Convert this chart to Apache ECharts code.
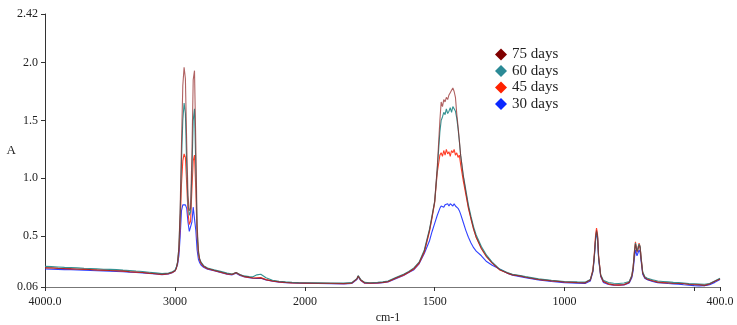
<!DOCTYPE html>
<html>
<head>
<meta charset="utf-8">
<script src="https://cdn.jsdelivr.net/npm/echarts@6/dist/echarts.min.js"></script>
<style>
  html, body { margin: 0; padding: 0; background: #fff; }
  #chart { width: 737px; height: 325px; }
</style>
</head>
<body>
<div id="chart"></div>
<script>
// wavenumbers (cm-1)
var wn = [
  4000, 3950, 3900, 3850, 3800, 3750, 3700, 3650, 3600, 3550,
  3500, 3450, 3400, 3350, 3300, 3250, 3200, 3150, 3100, 3050,
  3020, 3000, 2990, 2980, 2970, 2960, 2950, 2940, 2930, 2920,
  2910, 2900, 2890, 2880, 2870, 2860, 2850, 2840, 2830, 2820,
  2810, 2800, 2780, 2750, 2700, 2650, 2600, 2560, 2530, 2515,
  2500, 2470, 2430, 2400, 2370, 2355, 2340, 2325, 2300, 2250,
  2200, 2150, 2100, 2050, 2000, 1950, 1900, 1850, 1820, 1800,
  1795, 1785, 1770, 1750, 1720, 1700, 1680, 1650, 1620, 1600,
  1580, 1560, 1540, 1520, 1510, 1500, 1490, 1480, 1475, 1470,
  1465, 1460, 1455, 1450, 1445, 1440, 1435, 1430, 1425, 1420,
  1415, 1410, 1405, 1400, 1390, 1380, 1370, 1360, 1350, 1340,
  1320, 1300, 1280, 1250, 1220, 1200, 1170, 1150, 1100, 1050,
  1000, 950, 920, 900, 890, 885, 880, 876, 872, 868,
  860, 850, 830, 810, 790, 770, 750, 740, 735, 730,
  726, 720, 716, 712, 708, 704, 698, 690, 680, 660,
  640, 620, 600, 580, 560, 540, 520, 500, 480, 460,
  440, 420, 400
];

var d75 = [
  0.225, 0.227, 0.221, 0.22, 0.219, 0.214, 0.215, 0.21, 0.208, 0.206,
  0.203, 0.2, 0.199, 0.193, 0.19, 0.186, 0.18, 0.175, 0.17, 0.176,
  0.188, 0.2, 0.22, 0.27, 0.4, 0.75, 1.3, 1.8, 1.96, 1.86,
  1.3, 0.85, 0.72, 0.74, 1.2, 1.85, 1.93, 1.3, 0.6, 0.38,
  0.3, 0.27, 0.24, 0.22, 0.205, 0.19, 0.175, 0.17, 0.185, 0.18,
  0.165, 0.152, 0.145, 0.138, 0.136, 0.14, 0.138, 0.132, 0.122, 0.112,
  0.105, 0.1, 0.097, 0.095, 0.094, 0.093, 0.092, 0.09, 0.094, 0.13,
  0.155, 0.12, 0.097, 0.094, 0.097, 0.1, 0.108, 0.138, 0.165, 0.19,
  0.22, 0.27, 0.37, 0.55, 0.67, 0.8, 1.1, 1.5, 1.66, 1.62,
  1.68, 1.66, 1.7, 1.68, 1.72, 1.74, 1.76, 1.78, 1.75, 1.7,
  1.56, 1.45, 1.33, 1.2, 1.02, 0.88, 0.75, 0.65, 0.56, 0.49,
  0.39, 0.32, 0.27, 0.21, 0.18, 0.165, 0.155, 0.145, 0.125, 0.113,
  0.103, 0.098, 0.096, 0.12, 0.2, 0.32, 0.48, 0.55, 0.5, 0.32,
  0.16, 0.11, 0.088, 0.08, 0.078, 0.082, 0.1, 0.15, 0.22, 0.35,
  0.43, 0.36, 0.38, 0.42, 0.4, 0.3, 0.18, 0.14, 0.125, 0.112,
  0.1, 0.096, 0.094, 0.09, 0.09, 0.088, 0.083, 0.08, 0.078, 0.072,
  0.085, 0.11, 0.13
];

var d60 = [
  0.238, 0.236, 0.233, 0.23, 0.228, 0.225, 0.222, 0.22, 0.218, 0.214,
  0.212, 0.21, 0.206, 0.203, 0.198, 0.194, 0.188, 0.182, 0.176, 0.18,
  0.192, 0.205, 0.23, 0.28, 0.4, 0.7, 1.15, 1.5, 1.65, 1.56,
  1.1, 0.78, 0.68, 0.71, 1.05, 1.5, 1.6, 1.1, 0.55, 0.36,
  0.3, 0.275, 0.245, 0.225, 0.208, 0.195, 0.18, 0.172, 0.186, 0.182,
  0.168, 0.156, 0.15, 0.148, 0.165, 0.182, 0.17, 0.178, 0.14, 0.118,
  0.11, 0.104, 0.1, 0.098, 0.097, 0.096, 0.095, 0.094, 0.098, 0.132,
  0.158, 0.124, 0.1, 0.097, 0.1, 0.104, 0.112, 0.142, 0.17, 0.195,
  0.225, 0.275, 0.38, 0.56, 0.68, 0.8, 1.08, 1.4, 1.5, 1.53,
  1.57, 1.55, 1.6, 1.56, 1.58, 1.61, 1.57, 1.62, 1.6, 1.58,
  1.52, 1.43, 1.32, 1.2, 1.03, 0.9, 0.77, 0.67, 0.58, 0.51,
  0.41, 0.335, 0.28, 0.215, 0.185, 0.17, 0.16, 0.15, 0.13, 0.118,
  0.108, 0.104, 0.102, 0.125, 0.2, 0.31, 0.46, 0.54, 0.49, 0.31,
  0.165, 0.118, 0.098, 0.092, 0.09, 0.094, 0.108, 0.16, 0.23, 0.36,
  0.44, 0.37, 0.4, 0.43, 0.41, 0.31, 0.19, 0.15, 0.135, 0.122,
  0.112, 0.108, 0.104, 0.1, 0.098, 0.095, 0.09, 0.088, 0.086, 0.084,
  0.09, 0.112, 0.135
];

var d45 = [
  0.226, 0.224, 0.222, 0.219, 0.217, 0.216, 0.212, 0.211, 0.207, 0.205,
  0.202, 0.2, 0.197, 0.192, 0.189, 0.185, 0.179, 0.174, 0.168, 0.174,
  0.186, 0.2, 0.22, 0.27, 0.37, 0.6, 0.95, 1.15, 1.21, 1.18,
  0.95, 0.7, 0.6, 0.63, 0.9, 1.15, 1.2, 0.9, 0.5, 0.34,
  0.29, 0.265, 0.238, 0.218, 0.203, 0.188, 0.173, 0.168, 0.183, 0.178,
  0.163, 0.15, 0.143, 0.138, 0.14, 0.145, 0.141, 0.135, 0.124, 0.113,
  0.104, 0.099, 0.096, 0.094, 0.093, 0.092, 0.09, 0.089, 0.093, 0.128,
  0.154, 0.118, 0.095, 0.092, 0.095, 0.099, 0.106, 0.135, 0.162, 0.188,
  0.215, 0.265, 0.36, 0.54, 0.66, 0.79, 1.05, 1.2, 1.22, 1.19,
  1.24, 1.2, 1.25, 1.21, 1.23, 1.19, 1.24, 1.22, 1.25, 1.2,
  1.22, 1.18, 1.2, 1.12, 0.98, 0.86, 0.74, 0.65, 0.56, 0.49,
  0.395, 0.325, 0.272, 0.21, 0.18, 0.166, 0.156, 0.146, 0.126, 0.114,
  0.104, 0.099, 0.097, 0.122, 0.21, 0.33, 0.5, 0.57, 0.51, 0.33,
  0.16, 0.108, 0.085, 0.078, 0.076, 0.08, 0.102, 0.158, 0.23, 0.37,
  0.45, 0.37, 0.4, 0.44, 0.41, 0.31, 0.185, 0.145, 0.13, 0.116,
  0.104, 0.1, 0.097, 0.094, 0.092, 0.09, 0.086, 0.084, 0.082, 0.078,
  0.088, 0.11, 0.132
];

var d30 = [
  0.215, 0.214, 0.212, 0.21, 0.21, 0.207, 0.206, 0.203, 0.2, 0.199,
  0.196, 0.194, 0.192, 0.188, 0.185, 0.181, 0.177, 0.172, 0.167, 0.172,
  0.184, 0.198, 0.215, 0.255, 0.33, 0.5, 0.72, 0.77, 0.76, 0.77,
  0.74, 0.62, 0.54, 0.53, 0.62, 0.75, 0.74, 0.55, 0.38, 0.3,
  0.27, 0.25, 0.23, 0.213, 0.2, 0.185, 0.171, 0.165, 0.178, 0.174,
  0.16, 0.148, 0.141, 0.136, 0.134, 0.138, 0.136, 0.13, 0.12, 0.11,
  0.102, 0.097, 0.094, 0.092, 0.091, 0.09, 0.088, 0.086, 0.09, 0.124,
  0.15, 0.115, 0.092, 0.09, 0.093, 0.097, 0.104, 0.132, 0.16, 0.185,
  0.21, 0.26, 0.35, 0.46, 0.54, 0.61, 0.68, 0.74, 0.76, 0.77,
  0.75, 0.77, 0.76, 0.78, 0.76, 0.78, 0.77, 0.76, 0.78, 0.76,
  0.77, 0.74, 0.72, 0.69, 0.62, 0.55, 0.49, 0.44, 0.4, 0.37,
  0.33, 0.28, 0.25, 0.215, 0.178, 0.162, 0.15, 0.14, 0.12, 0.108,
  0.098, 0.093, 0.091, 0.112, 0.19, 0.3, 0.46, 0.53, 0.48, 0.3,
  0.15, 0.1, 0.082, 0.076, 0.075, 0.078, 0.095, 0.14, 0.2, 0.31,
  0.38, 0.33, 0.34, 0.38, 0.36, 0.28, 0.17, 0.135, 0.122, 0.108,
  0.097, 0.094, 0.09, 0.087, 0.085, 0.08, 0.076, 0.072, 0.07, 0.072,
  0.08, 0.1, 0.125
];

var seriesNames = ['75 days', '60 days', '45 days', '30 days'];
var xLabelsHigh = [4000, 3000];
var xLabelsLow = [2000, 1500, 1000, 400];
var xTicksLow = [2000, 1500, 1000, 500, 400];
var yLabels = [0.06, 0.5, 1.0, 1.5, 2.0, 2.42];

var chart = echarts.init(document.getElementById('chart'));

// spectrum is drawn on two grids: 4000-2000 and 2000-400 have different scales
function part(values, high) {
  var out = [];
  for (var i = 0; i < wn.length; i++) {
    if (high ? wn[i] >= 2000 : wn[i] <= 2000) out.push([wn[i], values[i]]);
  }
  return out;
}

var styles = [
  { data: d30, name: '30 days', line: '#1a2cff', icon: '#0a28ff', opacity: 0.9 },
  { data: d45, name: '45 days', line: '#ff2a12', icon: '#ff2200', opacity: 0.9 },
  { data: d60, name: '60 days', line: '#2a8c8c', icon: '#2b8a96', opacity: 0.95 },
  { data: d75, name: '75 days', line: '#8e1f1f', icon: '#800000', opacity: 0.7 }
];

var series = [];
styles.forEach(function (s) {
  [true, false].forEach(function (high) {
    series.push({
      name: s.name,
      type: 'line',
      xAxisIndex: high ? 0 : 1,
      yAxisIndex: high ? 0 : 1,
      data: part(s.data, high),
      showSymbol: false,
      symbol: 'diamond',
      animation: false,
      itemStyle: { color: s.icon },
      lineStyle: { color: s.line, width: 1.1, opacity: s.opacity }
    });
  });
});

var serif = 'Liberation Serif';
var yAxisBase = {
  type: 'value',
  min: 0.06,
  max: 2.42,
  splitLine: { show: false }
};

var option = {
  backgroundColor: '#fff',
  title: {
    text: 'cm-1',
    left: 383,
    top: 307,
    textAlign: 'center',
    textStyle: { fontFamily: serif, fontSize: 12, fontWeight: 'normal', color: '#222' }
  },
  legend: {
    data: seriesNames,
    orient: 'vertical',
    left: 490,
    top: 42,
    icon: 'diamond',
    itemWidth: 12,
    itemHeight: 12,
    itemGap: 1.5,
    textStyle: { fontFamily: serif, fontSize: 15, color: '#222', lineHeight: 15 }
  },
  grid: [
    { left: 45, top: 14, width: 260, bottom: 38 },
    { left: 305, top: 14, right: 17, bottom: 38 }
  ],
  xAxis: [{
    type: 'value',
    gridIndex: 0,
    min: 2000,
    max: 4000,
    inverse: true,
    splitLine: { show: false },
    axisLine: { lineStyle: { color: '#777' } },
    axisTick: { length: 4, customValues: xLabelsHigh, lineStyle: { color: '#333' } },
    axisLabel: {
      customValues: xLabelsHigh,
      margin: 9,
      fontFamily: serif,
      fontSize: 12,
      color: '#222',
      formatter: function (v) { return v === 4000 ? '4000.0' : String(v); }
    }
  }, {
    type: 'value',
    gridIndex: 1,
    min: 400,
    max: 2000,
    inverse: true,
    splitLine: { show: false },
    axisLine: { lineStyle: { color: '#777' } },
    axisTick: { length: 4, customValues: xTicksLow, lineStyle: { color: '#333' } },
    axisLabel: {
      customValues: xLabelsLow,
      margin: 9,
      fontFamily: serif,
      fontSize: 12,
      color: '#222',
      formatter: function (v) { return v === 400 ? '400.0' : String(v); }
    }
  }],
  yAxis: [Object.assign({}, yAxisBase, {
    gridIndex: 0,
    name: 'A',
    nameLocation: 'middle',
    nameGap: 29,
    nameMoveOverlap: false,
    nameRotate: 0,
    nameTextStyle: { fontFamily: serif, fontSize: 13, color: '#222' },
    axisLine: { show: true, lineStyle: { color: '#333' } },
    axisTick: { show: true, length: 4, customValues: yLabels, lineStyle: { color: '#333' } },
    axisLabel: {
      customValues: yLabels,
      margin: 7,
      fontFamily: serif,
      fontSize: 12,
      color: '#222',
      formatter: function (v) {
        if (Math.abs(v - 2.42) < 1e-6) return '2.42';
        if (Math.abs(v - 0.06) < 1e-6) return '0.06';
        return v.toFixed(1);
      }
    }
  }), Object.assign({}, yAxisBase, {
    gridIndex: 1,
    show: false
  })],
  series: series
};

chart.setOption(option);
</script>
</body>
</html>
